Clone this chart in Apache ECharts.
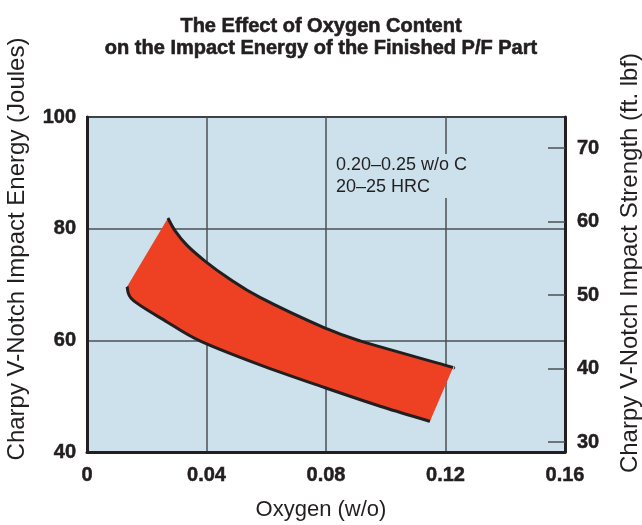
<!DOCTYPE html>
<html>
<head>
<meta charset="utf-8">
<script src="https://cdn.jsdelivr.net/npm/echarts@6/dist/echarts.min.js"></script>
<style>
  html, body { margin: 0; padding: 0; background: #fff; }
  #chart { width: 642px; height: 525px; }
</style>
</head>
<body>
<div id="chart"></div>
<script>
// oxygen content (w/o) on x, impact energy (J) on left y
const oxygenTicks = [0, 0.04, 0.08, 0.12, 0.16];
const energyTicks = [40, 60, 80, 100];
const strengthTicks = [30, 40, 50, 60, 70]; // ft. lbf, right axis

// upper edge of the band
const upperOxygen = [0.0271, 0.0295, 0.0335, 0.0395, 0.0469, 0.0579, 0.0797, 0.0914, 0.1195, 0.1225];
const upperEnergy = [81.9, 79.6, 77.0, 74.2, 71.3, 67.7, 62.2, 59.9, 55.6, 55.1];
// lower edge of the band
const lowerOxygen = [0.0134, 0.0154, 0.0268, 0.0378, 0.0579, 0.0797, 0.0981, 0.1148];
const lowerEnergy = [69.6, 67.2, 63.3, 59.9, 55.6, 51.5, 48.2, 45.5];

const plotBg = '#cce1eb';
const bandColor = '#ee4124';
const inkColor = '#231f20';

var chart = echarts.init(document.getElementById('chart'));

// catmull-rom through the pixel points, as svg path text
function curvePath(pts, start) {
    let d = (start ? 'M' : 'L') + pts[0][0] + ',' + pts[0][1];
    const n = pts.length;
    for (let i = 0; i < n - 1; i++) {
        const p0 = pts[Math.max(i - 1, 0)], p1 = pts[i], p2 = pts[i + 1], p3 = pts[Math.min(i + 2, n - 1)];
        const c1x = p1[0] + (p2[0] - p0[0]) / 6, c1y = p1[1] + (p2[1] - p0[1]) / 6;
        const c2x = p2[0] - (p3[0] - p1[0]) / 6, c2y = p2[1] - (p3[1] - p1[1]) / 6;
        d += ' C' + c1x + ',' + c1y + ' ' + c2x + ',' + c2y + ' ' + p2[0] + ',' + p2[1];
    }
    return d;
}

function renderBand(params, api) {
    const up = upperOxygen.map((x, i) => api.coord([x, upperEnergy[i]]));
    const lo = lowerOxygen.map((x, i) => api.coord([x, lowerEnergy[i]]));
    const loRev = lo.slice().reverse();
    const fillD = curvePath(up, true) + ' ' + curvePath(loRev, false) + ' Z';
    return {
        type: 'group',
        children: [
            { type: 'path', shape: { pathData: fillD }, style: { fill: bandColor } },
            { type: 'path', shape: { pathData: curvePath(up, true) }, style: { fill: null, stroke: inkColor, lineWidth: 3 } },
            { type: 'path', shape: { pathData: curvePath(lo, true) }, style: { fill: null, stroke: inkColor, lineWidth: 3 } }
        ]
    };
}

const tickFont = {
    color: inkColor,
    fontFamily: 'Liberation Sans, Arial, sans-serif',
    fontWeight: 'bold',
    fontSize: 20,
    textBorderColor: inkColor,
    textBorderWidth: 0.5
};

const option = {
    animation: false,
    title: {
        text: 'The Effect of Oxygen Content\non the Impact Energy of the Finished P/F Part',
        left: 'center',
        top: 10,
        textStyle: {
            color: inkColor,
            fontFamily: 'Liberation Sans, Arial, sans-serif',
            fontWeight: 'bold',
            fontSize: 20,
            lineHeight: 22,
            textBorderColor: inkColor,
            textBorderWidth: 0.6
        }
    },
    grid: {
        left: 87,
        right: 77,
        top: 117,
        bottom: 73,
        show: true,
        backgroundColor: plotBg,
        borderColor: inkColor,
        borderWidth: 2
    },
    xAxis: {
        type: 'value',
        min: 0,
        max: 0.16,
        interval: 0.04,
        axisLine: { show: true, onZero: false, lineStyle: { color: inkColor, width: 3 } },
        axisTick: { show: false },
        axisLabel: Object.assign({
            margin: 13,
            formatter: function (v) {
                return oxygenTicks.indexOf(v) === 0 ? '0' : v.toFixed(2);
            }
        }, tickFont),
        splitLine: { show: true, lineStyle: { color: '#4d4f53', width: 1.5 } }
    },
    yAxis: [{
        type: 'value',
        min: 40,
        max: 100,
        interval: 20,
        position: 'left',
        axisLine: { show: true, lineStyle: { color: inkColor, width: 3 } },
        axisTick: { show: false },
        axisLabel: Object.assign({ margin: 11 }, tickFont),
        splitLine: { show: true, lineStyle: { color: '#4d4f53', width: 1.5 } }
    }, {
        type: 'value',
        min: 28.64,
        max: 74.22,
        position: 'right',
        axisLine: { show: true, lineStyle: { color: inkColor, width: 3 } },
        axisTick: {
            show: true,
            inside: true,
            length: 17,
            customValues: strengthTicks,
            lineStyle: { color: '#4d4f53', width: 1.5 }
        },
        axisLabel: Object.assign({ margin: 12, customValues: strengthTicks }, tickFont),
        splitLine: { show: false }
    }],
    graphic: [{
        type: 'text',
        x: 17,
        y: 249,
        rotation: Math.PI / 2,
        style: {
            text: 'Charpy V-Notch Impact Energy (Joules)',
            fill: inkColor,
            font: '24px "Liberation Sans", Arial, sans-serif',
            textAlign: 'center',
            textVerticalAlign: 'middle'
        }
    }, {
        type: 'text',
        x: 630,
        y: 263,
        rotation: Math.PI / 2,
        style: {
            text: 'Charpy V-Notch Impact Strength (ft. lbf)',
            fill: inkColor,
            font: '24px "Liberation Sans", Arial, sans-serif',
            textAlign: 'center',
            textVerticalAlign: 'middle'
        }
    }, {
        type: 'text',
        x: 336,
        y: 154,
        z: 10,
        style: {
            text: '0.20\u20130.25 w/o C\n20\u201325 HRC',
            fill: inkColor,
            font: '18px "Liberation Sans", Arial, sans-serif',
            lineHeight: 22,
            backgroundColor: plotBg,
            padding: [0, 2, 0, 0]
        }
    }, {
        type: 'text',
        left: 'center',
        top: 499,
        style: {
            text: 'Oxygen (w/o)',
            fill: inkColor,
            font: '22px "Liberation Sans", Arial, sans-serif'
        }
    }],
    series: [{
        type: 'custom',
        coordinateSystem: 'cartesian2d',
        xAxisIndex: 0,
        yAxisIndex: 0,
        renderItem: renderBand,
        data: [[upperOxygen[0], upperEnergy[0]]],
        z: 3
    }]
};

chart.setOption(option);
window.addEventListener('resize', function () {
    chart.resize();
});
</script>
</body>
</html>
